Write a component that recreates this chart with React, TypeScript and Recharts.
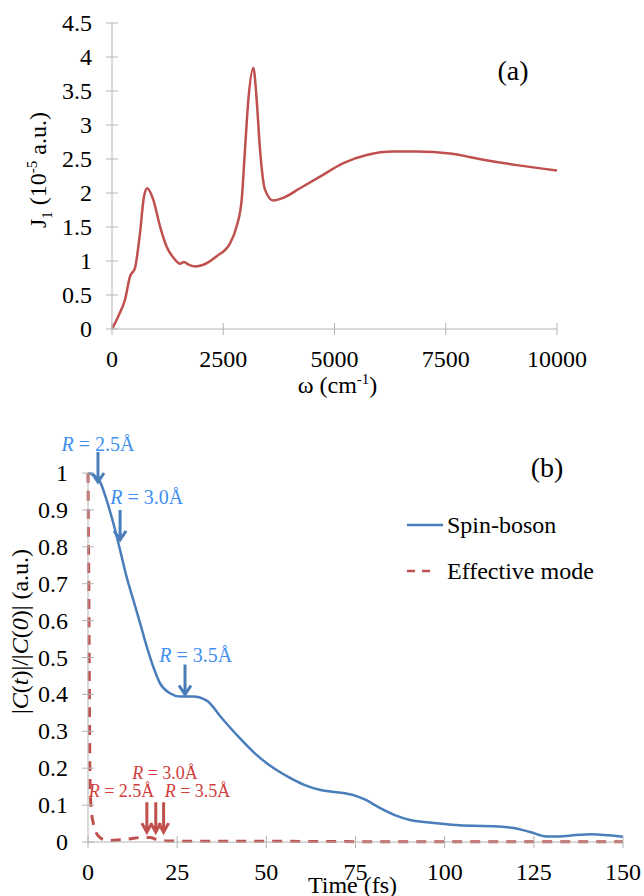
import React from 'react';
import { LineChart, Line, XAxis, YAxis, Label, Legend, ReferenceDot } from 'recharts';

const FONT = "'Liberation Serif', 'Times New Roman', serif";
const AXIS_GREY = '#b4b4b4';
const RED = '#c0504d';
const BLUE = '#4a7ebb';
const BLUE_TEXT = '#3f8fef';
const RED_TEXT = '#cf3d3d';

// (a) spectral density J1(omega)
const omega = [0, 150, 292, 404, 517, 629, 719, 793, 928, 1079, 1229, 1378, 1528, 1618, 1708, 1865, 2052, 2352, 2652, 2801, 2914, 2989, 3064, 3176, 3251, 3326, 3438, 3625, 3850, 4225, 4674, 5198, 5723, 6322, 6847, 7596, 8344, 9094, 10000];
const j1 = [0, 0.2, 0.43, 0.77, 0.9, 1.41, 1.95, 2.07, 1.9, 1.51, 1.21, 1.05, 0.96, 0.985, 0.95, 0.92, 0.945, 1.07, 1.26, 1.51, 1.9, 2.64, 3.37, 3.84, 3.37, 2.64, 2.05, 1.89, 1.93, 2.07, 2.24, 2.44, 2.56, 2.61, 2.61, 2.58, 2.49, 2.41, 2.33];
const omegaTicks = [0, 2500, 5000, 7500, 10000];
const jTicks = [0, 0.5, 1, 1.5, 2, 2.5, 3, 3.5, 4, 4.5];

// (b) correlation decay
const timeSB = [0, 1.5, 3.4, 5.2, 7.1, 9.0, 10.8, 12.7, 14.6, 16.5, 18.3, 20.2, 23.0, 25.8, 29.5, 33.3, 37.5, 42.1, 46.7, 51.3, 56.0, 60.6, 65.2, 69.8, 74.4, 77.9, 81.3, 86.0, 90.6, 96.3, 102.1, 107.9, 113.6, 119.4, 124.0, 128.6, 132.1, 136.7, 141.3, 145.9, 150];
const spinBoson = [1, 0.995, 0.976, 0.927, 0.864, 0.791, 0.719, 0.656, 0.593, 0.529, 0.475, 0.43, 0.403, 0.394, 0.394, 0.383, 0.336, 0.286, 0.241, 0.205, 0.177, 0.155, 0.141, 0.135, 0.127, 0.114, 0.095, 0.073, 0.059, 0.052, 0.047, 0.044, 0.043, 0.038, 0.027, 0.015, 0.015, 0.019, 0.021, 0.018, 0.014];
const timeEM = [0, 0.15, 0.3, 0.45, 0.6, 0.9, 1.5, 2.3, 3.4, 5, 6.2, 9, 12, 14.6, 17.4, 19.5, 22, 30, 50, 75, 100, 125, 150];
const effMode = [1, 0.8, 0.55, 0.3, 0.15, 0.09, 0.05, 0.025, 0.012, 0.005, 0.004, 0.006, 0.009, 0.012, 0.012, 0.006, 0.003, 0.002, 0.002, 0.001, 0.001, 0.001, 0.001];
const timeTicks = [0, 25, 50, 75, 100, 125, 150];
const cTicks = [0, 0.1, 0.2, 0.3, 0.4, 0.5, 0.6, 0.7, 0.8, 0.9, 1];
const seriesNames = ['Spin-boson', 'Effective mode'];

// annotations (R values and where the arrows point)
const rValues = ['2.5', '3.0', '3.5'];
const blueArrowT = [2.8, 9.0, 27.2];
const blueArrowC = [0.973, 0.816, 0.397];
const blueLabelT = [2.8, 16.5, 30.2];
const blueLabelC = [1.079, 0.935, 0.507];
const redArrowT = [16.5, 19.0, 21.2];
const redArrowC = [0.024, 0.024, 0.024];
const redLabelT = [9.4, 21.6, 30.7];
const redLabelC = [0.14, 0.19, 0.14];

const specData = omega.map((w, i) => ({ w, j: j1[i] }));
const sbData = timeSB.map((t, i) => ({ t, c: spinBoson[i] }));
const emData = timeEM.map((t, i) => ({ t, c: effMode[i] }));

const XTick = (props: any) => {
  const { x, y, payload } = props;
  return (
    <g>
      <line x1={x} x2={x} y1={y - 6} y2={y + 6} stroke={AXIS_GREY} />
      <text x={x} y={y + 38} textAnchor="middle" style={{ fontFamily: FONT }} fontSize={24} fill="#000">
        {payload.value}
      </text>
    </g>
  );
};

const YTick = (props: any) => {
  const { x, y, payload } = props;
  return (
    <g>
      <line x1={x - 6} x2={x + 6} y1={y} y2={y} stroke={AXIS_GREY} />
      <text x={x - 20} y={y + 8} textAnchor="end" style={{ fontFamily: FONT }} fontSize={24} fill="#000">
        {payload.value}
      </text>
    </g>
  );
};

const arrowShape = (color: string, head: number) => (props: any) => {
  const { cx, cy } = props;
  return (
    <path
      d={`M${cx},${cy - 31} L${cx},${cy - 1} M${cx - head},${cy - 10} L${cx},${cy - 1} L${cx + head},${cy - 10}`}
      stroke={color}
      strokeWidth={3}
      fill="none"
    />
  );
};

const rLabel = (color: string, r: string, size: number) => (props: any) => {
  const { cx, cy } = props;
  return (
    <text x={cx} y={cy + 7} textAnchor="middle" style={{ fontFamily: FONT }} fontSize={size} fill={color}>
      <tspan fontStyle="italic">R</tspan> = {r}Å
    </text>
  );
};

const panelTag = (tag: string) => (props: any) => (
  <text x={props.cx} y={props.cy + 10} textAnchor="middle" style={{ fontFamily: FONT }} fontSize={28} fill="#000">
    {tag}
  </text>
);

const LegendBox = () => (
  <div style={{ fontFamily: FONT, fontSize: 24, color: '#000' }}>
    {seriesNames.map((name, i) => (
      <div key={name} style={{ display: 'flex', alignItems: 'center', height: 46 }}>
        <svg width={40} height={10}>
          <line
            x1={2}
            x2={i === 0 ? 38 : 30}
            y1={5}
            y2={5}
            stroke={i === 0 ? BLUE : RED}
            strokeWidth={2.5}
            strokeDasharray={i === 0 ? undefined : '8 7'}
          />
        </svg>
        <span style={{ marginLeft: 2 }}>{name}</span>
      </div>
    ))}
  </div>
);

export default function App() {
  return (
    <div style={{ position: 'absolute', left: 0, top: 0, width: 644, height: 896, background: '#fff' }}>
      <LineChart width={644} height={410} data={specData} margin={{ top: 23, right: 87, bottom: 20, left: 0 }}>
        <XAxis
          dataKey="w"
          type="number"
          domain={[0, 10000]}
          ticks={omegaTicks}
          stroke={AXIS_GREY}
          tickLine={false}
          tickSize={0}
          tickMargin={0}
          height={61}
          tick={<XTick />}
        >
          <Label
            content={(p: any) => {
              const vb = p.viewBox;
              return (
                <text x={vb.x + vb.width / 2 + 3} y={vb.y + 64} textAnchor="middle" style={{ fontFamily: FONT }} fontSize={24}>
                  ω (cm<tspan dy={-9} fontSize={15}>-1</tspan>
                  <tspan dy={9}>)</tspan>
                </text>
              );
            }}
          />
        </XAxis>
        <YAxis
          type="number"
          domain={[0, 4.5]}
          ticks={jTicks}
          stroke={AXIS_GREY}
          tickLine={false}
          tickSize={0}
          tickMargin={0}
          width={112}
          tick={<YTick />}
        >
          <Label
            content={(p: any) => {
              const vb = p.viewBox;
              const cx = 46;
              const cy = vb.y + vb.height / 2 - 6;
              return (
                <text transform={`rotate(-90, ${cx}, ${cy})`} x={cx} y={cy} textAnchor="middle" style={{ fontFamily: FONT }} fontSize={24}>
                  J<tspan dy={6} fontSize={15}>1</tspan>
                  <tspan dy={-6}> (10</tspan>
                  <tspan dy={-9} fontSize={15}>-5</tspan>
                  <tspan dy={9}> a.u.)</tspan>
                </text>
              );
            }}
          />
        </YAxis>
        <Line type="monotone" dataKey="j" stroke={RED} strokeWidth={2.5} dot={false} activeDot={false} isAnimationActive={false} />
        <ReferenceDot x={9011} y={3.81} r={0} ifOverflow="visible" shape={panelTag('(a)')} />
      </LineChart>

      <LineChart width={644} height={486} margin={{ top: 63, right: 21, bottom: 0, left: 0 }}>
        <XAxis
          dataKey="t"
          type="number"
          domain={[0, 150]}
          ticks={timeTicks}
          stroke={AXIS_GREY}
          tickLine={false}
          tickSize={0}
          tickMargin={0}
          height={54}
          tick={<XTick />}
        >
          <Label
            content={(p: any) => {
              const vb = p.viewBox;
              return (
                <text x={vb.x + vb.width / 2 - 3} y={vb.y + 51} textAnchor="middle" style={{ fontFamily: FONT }} fontSize={24}>
                  Time (fs)
                </text>
              );
            }}
          />
        </XAxis>
        <YAxis
          type="number"
          domain={[0, 1]}
          ticks={cTicks}
          stroke={AXIS_GREY}
          tickLine={false}
          tickSize={0}
          tickMargin={0}
          width={88}
          tick={<YTick />}
        >
          <Label
            content={(p: any) => {
              const vb = p.viewBox;
              const cx = 28;
              const cy = vb.y + vb.height / 2 - 26;
              return (
                <text transform={`rotate(-90, ${cx}, ${cy})`} x={cx} y={cy} textAnchor="middle" style={{ fontFamily: FONT }} fontSize={24}>
                  |<tspan fontStyle="italic">C</tspan>(<tspan fontStyle="italic">t</tspan>)|/|<tspan fontStyle="italic">C</tspan>(<tspan fontStyle="italic">0</tspan>)| (a.u.)
                </text>
              );
            }}
          />
        </YAxis>
        <Legend
          layout="vertical"
          align="center"
          verticalAlign="middle"
          wrapperStyle={{ left: 405, top: 92, width: 239 }}
          content={<LegendBox />}
        />
        <Line data={sbData} type="monotone" dataKey="c" name={seriesNames[0]} stroke={BLUE} strokeWidth={2.5} dot={false} activeDot={false} isAnimationActive={false} />
        <Line data={emData} type="monotone" dataKey="c" name={seriesNames[1]} stroke={RED} strokeWidth={3} strokeDasharray="10 8" dot={false} activeDot={false} isAnimationActive={false} />
        {rValues.map((r, i) => (
          <ReferenceDot key={`ba${r}`} x={blueArrowT[i]} y={blueArrowC[i]} r={0} ifOverflow="visible" shape={arrowShape(BLUE, 6)} />
        ))}
        {rValues.map((r, i) => (
          <ReferenceDot key={`bl${r}`} x={blueLabelT[i]} y={blueLabelC[i]} r={0} ifOverflow="visible" shape={rLabel(BLUE_TEXT, r, 20)} />
        ))}
        {rValues.map((r, i) => (
          <ReferenceDot key={`ra${r}`} x={redArrowT[i]} y={redArrowC[i]} r={0} ifOverflow="visible" shape={arrowShape(RED, 5)} />
        ))}
        {rValues.map((r, i) => (
          <ReferenceDot key={`rl${r}`} x={redLabelT[i]} y={redLabelC[i]} r={0} ifOverflow="visible" shape={rLabel(RED_TEXT, r, 18)} />
        ))}
        <ReferenceDot x={128.7} y={1.016} r={0} ifOverflow="visible" shape={panelTag('(b)')} />
      </LineChart>
    </div>
  );
}
